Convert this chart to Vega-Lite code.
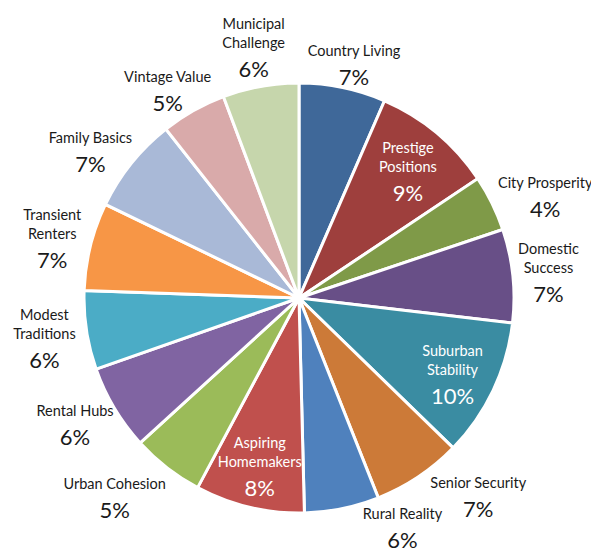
{
  "$schema": "https://vega.github.io/schema/vega-lite/v6.json",
  "width": 584,
  "height": 512,
  "autosize": {"type": "none"},
  "padding": {"left": 7, "top": 42, "right": 0, "bottom": 0},
  "background": "white",
  "config": {"view": {"stroke": null}, "font": "Lato"},
  "data": {
    "values": [
      {"segment": "Country Living", "label": "Country Living", "value": 6.5},
      {"segment": "Prestige Positions", "label": "Prestige\nPositions", "value": 9.1},
      {"segment": "City Prosperity", "label": "City Prosperity", "value": 4.2},
      {"segment": "Domestic Success", "label": "Domestic\nSuccess", "value": 7.0},
      {"segment": "Suburban Stability", "label": "Suburban\nStability", "value": 10.4},
      {"segment": "Senior Security", "label": "Senior Security", "value": 6.7},
      {"segment": "Rural Reality", "label": "Rural Reality", "value": 5.6},
      {"segment": "Aspiring Homemakers", "label": "Aspiring\nHomemakers", "value": 8.2},
      {"segment": "Urban Cohesion", "label": "Urban Cohesion", "value": 5.4},
      {"segment": "Rental Hubs", "label": "Rental Hubs", "value": 6.4},
      {"segment": "Modest Traditions", "label": "Modest\nTraditions", "value": 5.9},
      {"segment": "Transient Renters", "label": "Transient\nRenters", "value": 6.6},
      {"segment": "Family Basics", "label": "Family Basics", "value": 7.2},
      {"segment": "Vintage Value", "label": "Vintage Value", "value": 4.9},
      {"segment": "Municipal Challenge", "label": "Municipal\nChallenge", "value": 5.7}
    ]
  },
  "transform": [
    {"window": [{"op": "row_number", "as": "idx"}]},
    {"joinaggregate": [{"op": "sum", "field": "value", "as": "total"}]},
    {"window": [{"op": "sum", "field": "value", "as": "cum"}], "sort": [{"field": "idx"}], "frame": [null, 0]},
    {"calculate": "2 * PI * (datum.cum - datum.value / 2) / datum.total", "as": "ang"},
    {"calculate": "indexof(datum.label, '\\n') >= 0", "as": "two"},
    {"calculate": "6.7 * max(length(split(datum.label, '\\n')[0]), length(peek(split(datum.label, '\\n'))))", "as": "w"},
    {"calculate": "datum.two ? 64 : 45", "as": "h"},
    {"calculate": "indexof(['Prestige Positions','Suburban Stability','Aspiring Homemakers'], datum.segment) >= 0", "as": "inside"},
    {"calculate": "datum.segment == 'Senior Security' ? 27 : datum.segment == 'Rural Reality' ? 50 : datum.segment == 'Urban Cohesion' ? -18 : 0", "as": "nudgeX"},
    {"calculate": "datum.segment == 'Senior Security' ? -7 : datum.segment == 'Rural Reality' ? -13 : datum.segment == 'Urban Cohesion' ? 4 : (!datum.two && cos(datum.ang) > 0 ? 7 : 0)", "as": "nudgeY"},
    {"calculate": "round(datum.value) + '%'", "as": "pct"}
  ],
  "encoding": {
    "theta": {"field": "value", "type": "quantitative", "stack": true},
    "order": {"field": "idx", "type": "quantitative"}
  },
  "layer": [
    {
      "mark": {"type": "arc", "outerRadius": 215, "stroke": "white", "strokeWidth": 3},
      "encoding": {
        "color": {
          "field": "segment",
          "type": "nominal",
          "legend": null,
          "scale": {
            "domain": ["Country Living", "Prestige Positions", "City Prosperity", "Domestic Success", "Suburban Stability", "Senior Security", "Rural Reality", "Aspiring Homemakers", "Urban Cohesion", "Rental Hubs", "Modest Traditions", "Transient Renters", "Family Basics", "Vintage Value", "Municipal Challenge"],
            "range": ["#3F6899", "#9E3F3D", "#7F9A48", "#684F87", "#3A8CA2", "#CC7A38", "#4F81BD", "#C0504D", "#9BBB59", "#8064A2", "#4BACC6", "#F79646", "#A9B9D7", "#D9AAAA", "#C6D6AC"]
          }
        }
      }
    },
    {
      "mark": {
        "type": "text", "radius": 224, "baseline": "bottom", "fontSize": 14.5, "lineBreak": "\n", "lineHeight": 19, "fill": "#1a1a1a",
        "dx": {"expr": "sin(datum.ang) * datum.w / 2 + datum.nudgeX"},
        "dy": {"expr": "-cos(datum.ang) * datum.h / 2 + (datum.two ? -14 : -5) + datum.nudgeY"}
      },
      "encoding": {
        "text": {"condition": {"test": "datum.inside", "value": ""}, "field": "label"}
      }
    },
    {
      "mark": {
        "type": "text", "radius": 224, "baseline": "middle", "fontSize": 22, "fill": "#1a1a1a",
        "dx": {"expr": "sin(datum.ang) * datum.w / 2 + datum.nudgeX"},
        "dy": {"expr": "-cos(datum.ang) * datum.h / 2 + (datum.two ? 24 : 14) + datum.nudgeY"}
      },
      "encoding": {
        "text": {"condition": {"test": "datum.inside", "value": ""}, "field": "pct"}
      }
    },
    {
      "mark": {"type": "text", "radius": 170, "baseline": "bottom", "dy": -12, "fontSize": 14.5, "lineBreak": "\n", "lineHeight": 19, "fill": "white"},
      "encoding": {
        "text": {"condition": {"test": "!datum.inside", "value": ""}, "field": "label"}
      }
    },
    {
      "mark": {"type": "text", "radius": 170, "baseline": "middle", "dy": 26, "fontSize": 22, "fill": "white"},
      "encoding": {
        "text": {"condition": {"test": "!datum.inside", "value": ""}, "field": "pct"}
      }
    }
  ]
}
